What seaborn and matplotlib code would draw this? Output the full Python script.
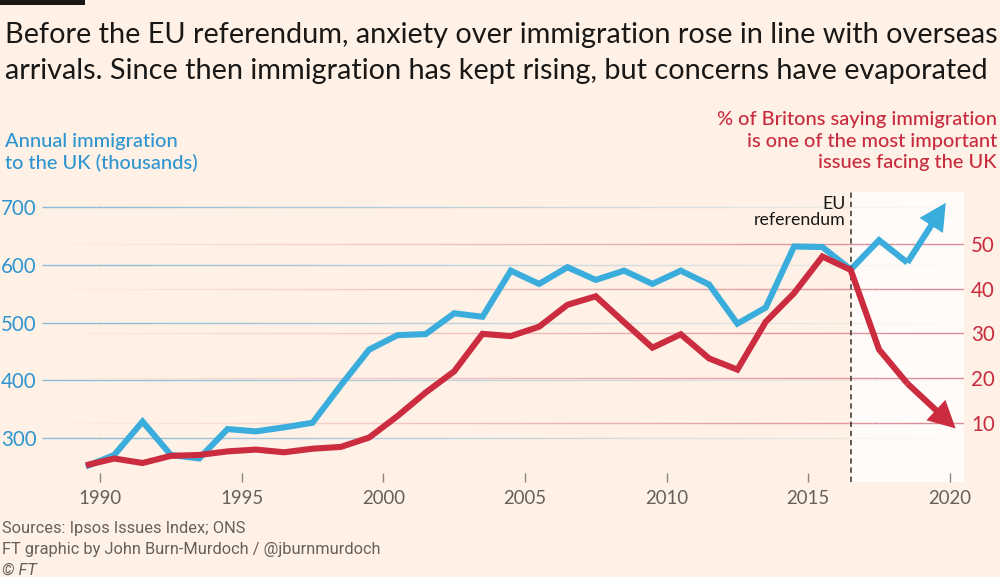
import numpy as np
import pandas as pd
import matplotlib
matplotlib.use("Agg")
import matplotlib.pyplot as plt
import seaborn as sns
from matplotlib.collections import LineCollection
from matplotlib.transforms import blended_transform_factory
from matplotlib.colors import to_rgba
from matplotlib.patches import FancyArrowPatch
import matplotlib.font_manager as fm

# ---------------- data ----------------
years = list(range(1989, 2019))
immigration = [250, 270, 328, 270, 264, 315, 311, 318, 326, 391,
               453, 478, 480, 516, 510, 590, 567, 596, 574, 590,
               567, 590, 566, 498, 526, 632, 631, 592, 643, 604]
concern = [0.5, 2.0, 1.0, 2.6, 2.8, 3.6, 4.0, 3.4, 4.2, 4.6,
           6.7, 11.5, 16.8, 21.5, 29.9, 29.4, 31.5, 36.4, 38.3, 32.5,
           26.8, 29.8, 24.4, 21.9, 32.6, 39.0, 47.2, 44.2, 26.4, 18.8]
# latest readings (fractional year, value)
imm_latest_t, imm_latest_v = 2019.95, 715
con_latest_t, con_latest_v = 2020.33, 8.0

referendum_year = 2016.5
x_ticks = [1990, 1995, 2000, 2005, 2010, 2015, 2020]
left_ticks = [300, 400, 500, 600, 700]
right_ticks = [10, 20, 30, 40, 50]

title_lines = ["Before the EU referendum, anxiety over immigration rose in line with overseas",
               "arrivals. Since then immigration has kept rising, but concerns have evaporated"]
left_label = "Annual immigration\nto the UK (thousands)"
right_label = "% of Britons saying immigration\nis one of the most important\nissues facing the UK"
ref_label = "EU\nreferendum"
footer = ["Sources: Ipsos Issues Index; ONS",
          "FT graphic by John Burn-Murdoch / @jburnmurdoch"]

# ---------------- style ----------------
BG = "#FFF1E5"
WHITE_ZONE = "#FFFBF8"
BLUE = "#3BADDC"
RED = "#CC2C3F"
BLUE_TXT = "#2E95D0"
RED_TXT = "#C92B3E"
GREY = "#66605C"

installed = {f.name for f in fm.fontManager.ttflist}
def pick(*names):
    for n in names:
        if n in installed:
            return n
    return "DejaVu Sans"
MAIN = pick("Lato", "Open Sans", "Noto Sans")
SMALL = pick("Roboto", "Lato", "Noto Sans")

sns.set_theme(style="white")
plt.rcParams["font.family"] = [MAIN, "DejaVu Sans"]

W, H = 1000, 577
fig = plt.figure(figsize=(W / 100, H / 100), dpi=100)
fig.patch.set_facecolor(BG)

ax_left_px, ax_right_px, ax_top_px, ax_bot_px = 42, 964, 192, 482
ax = fig.add_axes([ax_left_px / W, 1 - ax_bot_px / H,
                   (ax_right_px - ax_left_px) / W, (ax_bot_px - ax_top_px) / H])
ax.set_facecolor(BG)
ax2 = ax.twinx()
ax2.patch.set_visible(False)

ax.set_xlim(1987.95, 2020.5)
ax.set_ylim(223.1, 726.6)
ax2.set_ylim(-3.25, 61.64)
for a in (ax, ax2):
    for s in a.spines.values():
        s.set_visible(False)

# white "after referendum" zone
ax.axvspan(referendum_year, 2020.5, ymin=0, ymax=1, color=WHITE_ZONE, lw=0, zorder=0.2)

# gradient gridlines
def grad_hlines(target_ax, yvals, ytrans, color, fade_to_right):
    n = 120
    xs = np.linspace(0, 1, n + 1)
    tr = blended_transform_factory(target_ax.transAxes, ytrans)
    for y in yvals:
        segs = [[(xs[i], y), (xs[i + 1], y)] for i in range(n)]
        mids = (xs[:-1] + xs[1:]) / 2
        alph = (1 - mids) if fade_to_right else mids
        alph = np.clip(alph * 1.05, 0, 1)
        cols = [to_rgba(color, a) for a in alph]
        lc = LineCollection(segs, colors=cols, linewidths=1.0, transform=tr, zorder=0.6)
        target_ax.add_collection(lc, autolim=False)

grad_hlines(ax, left_ticks, ax.transData, "#8DB9D8", True)
grad_hlines(ax, right_ticks, ax2.transData, "#DB8A96", False)

# lines
imm_t = [y + 0.5 for y in years]
df_imm = pd.DataFrame({"t": imm_t, "v": immigration})
df_con = pd.DataFrame({"t": imm_t, "v": concern})
sns.lineplot(data=df_imm, x="t", y="v", ax=ax, color=BLUE, lw=4.4, zorder=3)
sns.lineplot(data=df_con, x="t", y="v", ax=ax2, color=RED, lw=4.4, zorder=3)
for l in ax.lines + ax2.lines:
    l.set_solid_joinstyle("miter")
    l.set_solid_capstyle("butt")

# arrows to latest readings
arr_style = "-|>,head_length=0.62,head_width=0.32"
ax.add_patch(FancyArrowPatch((imm_t[-1], immigration[-1]), (imm_latest_t, imm_latest_v),
                             arrowstyle=arr_style, mutation_scale=20, color=BLUE, lw=4.4,
                             shrinkA=0, shrinkB=3.5, joinstyle="miter", capstyle="butt", zorder=3))
ax2.add_patch(FancyArrowPatch((imm_t[-1], concern[-1]), (con_latest_t, con_latest_v),
                              arrowstyle=arr_style, mutation_scale=20, color=RED, lw=4.4,
                              shrinkA=0, shrinkB=3.5, joinstyle="miter", capstyle="butt", zorder=3))

# referendum dashed line
ax.plot([referendum_year, referendum_year], [0, 1.01], color="#33302E", lw=1.1,
        dashes=(3.5, 2.5), zorder=4, clip_on=False,
        transform=blended_transform_factory(ax.transData, ax.transAxes))
ax.text(referendum_year - 0.17, 1.0 - 4 / 290, ref_label,
        transform=blended_transform_factory(ax.transData, ax.transAxes),
        ha="right", va="top", fontsize=12.8, color="#1A1817", linespacing=1.0, zorder=5)

# ticks
ax.set_xticks(x_ticks)
ax.set_xticklabels([str(x) for x in x_ticks])
ax.tick_params(axis="x", direction="in", length=6.3, width=1, color="#8A837E",
               labelcolor=GREY, labelsize=13.4, pad=6, bottom=True)
ax.set_yticks(left_ticks)
ax.set_yticklabels([str(v) for v in left_ticks])
ax.tick_params(axis="y", length=0, pad=4, labelsize=14.8, labelcolor=BLUE_TXT, left=True)
ax2.set_yticks(right_ticks)
ax2.set_yticklabels([str(v) for v in right_ticks])
ax2.tick_params(axis="y", length=0, pad=5, labelsize=14.8, labelcolor=RED_TXT, right=True)
ax.set_xlim(1987.95, 2020.5)
ax.set_xlabel("")
ax.set_ylabel("")
ax2.set_ylabel("")
ax.grid(False)
ax2.grid(False)

# titles & labels
fig.add_artist(plt.Rectangle((0, 1 - 5 / H), 85 / W, 5 / H, transform=fig.transFigure,
                             color="#1A1817", lw=0))
fig.text(5 / W, 1 - 42.5 / H, title_lines[0], fontsize=20.75, color="#1A1817", va="baseline", ha="left")
fig.text(5 / W, 1 - 78.5 / H, title_lines[1], fontsize=20.75, color="#1A1817", va="baseline", ha="left")
fig.text(5 / W, 1 - 147 / H, left_label.split("\n")[0], fontsize=14.4, color=BLUE_TXT,
         va="baseline", ha="left", fontweight="medium")
fig.text(5 / W, 1 - 169.3 / H, left_label.split("\n")[1], fontsize=14.4, color=BLUE_TXT,
         va="baseline", ha="left", fontweight="medium")
for i, line in enumerate(right_label.split("\n")):
    fig.text(997 / W, 1 - (125 + 21.7 * i) / H, line, fontsize=14.4, color=RED_TXT,
             va="baseline", ha="right", fontweight="medium")

foot_kw = dict(fontsize=11.8, color=GREY, va="baseline", fontfamily=[SMALL, "DejaVu Sans"])
fig.text(2 / W, 1 - 533.5 / H, footer[0], **foot_kw)
fig.text(2 / W, 1 - 554 / H, footer[1], **foot_kw)
fig.text(2 / W, 1 - 574.5 / H, "© FT", style="italic", **foot_kw)

fig.savefig("out.png", dpi=100, facecolor=BG)
